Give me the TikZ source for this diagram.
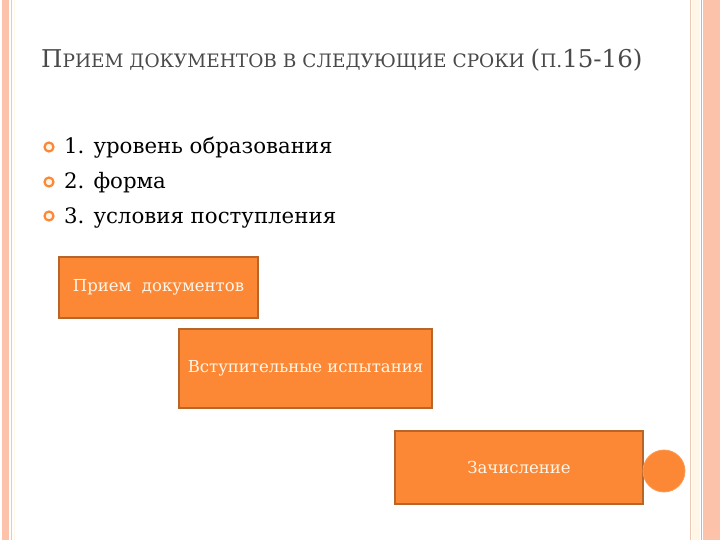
\documentclass[tikz,border=0pt]{standalone}
\usepackage{fontspec}
\setmainfont{DejaVu Serif}
\definecolor{salmon}{HTML}{FDC3AA}
\definecolor{salmonline}{HTML}{F7A789}
\definecolor{tanline}{HTML}{EBC9B4}
\definecolor{cream}{HTML}{FFF6E8}
\definecolor{boxfill}{HTML}{FC8836}
\definecolor{boxline}{HTML}{B8652A}
\definecolor{titlegray}{HTML}{4A4A4A}
\begin{document}
\begin{tikzpicture}[x=1pt,y=-1pt,
  stepbox/.style={draw=boxline,line width=1.5pt,fill=boxfill,text=cream,
    font=\fontsize{16.5}{19}\selectfont,inner sep=0pt},
  bulletmark/.style={circle,draw=boxfill,line width=2.2pt,fill=cream,minimum size=9pt,inner sep=0pt},
  itemtext/.style={anchor=base west,font=\fontsize{21.3}{26}\selectfont,text=black,inner sep=0pt}]
\useasboundingbox (0,0) rectangle (720,540);
\fill[white] (0,0) rectangle (720,540);
% left border
\fill[salmon] (2,0) rectangle (9,540);
\draw[tanline,line width=0.6pt] (11.5,0) -- (11.5,540);
\draw[cream,line width=1pt] (14,0) -- (14,540);
% right border
\fill[salmon] (703,0) rectangle (720,540);
\fill[cream] (692,0) rectangle (700,540);
\draw[tanline,line width=1.2pt] (690.5,0) -- (690.5,540);
\draw[salmonline,line width=1.5pt] (701.5,0) -- (701.5,540);
% title
\node[anchor=base west,inner sep=0pt,text=titlegray] (title) at (41,68)
  {{\fontsize{24.5}{28}\selectfont П}{\fontsize{18.5}{22}\selectfont РИЕМ ДОКУМЕНТОВ В СЛЕДУЮЩИЕ СРОКИ }{\fontsize{24.5}{28}\selectfont (}{\fontsize{18.5}{22}\selectfont П.}{\fontsize{24.5}{28}\selectfont 15-16)}};
% bullets
\node[bulletmark] (b1) at (49,147) {};
\node[bulletmark] (b2) at (49,182) {};
\node[bulletmark] (b3) at (49,216) {};
\node[itemtext] (t1) at (64,154) {1. уровень образования};
\node[itemtext] (t2) at (64,189) {2. форма};
\node[itemtext] (t3) at (64,223) {3. условия поступления};
% boxes
\node[stepbox,minimum width=199pt,minimum height=61pt] (s1) at (158.5,287.5) {Прием\ \ документов};
\node[stepbox,minimum width=253pt,minimum height=79pt] (s2) at (305.5,368.5) {Вступительные испытания};
\node[stepbox,minimum width=248pt,minimum height=73pt] (s3) at (519,467.5) {Зачисление};
% circle
\node[circle,fill=boxfill,draw=boxfill!85!white,line width=0.8pt,minimum size=42pt,inner sep=0pt] (dot) at (664,471) {};
\end{tikzpicture}
\end{document}
